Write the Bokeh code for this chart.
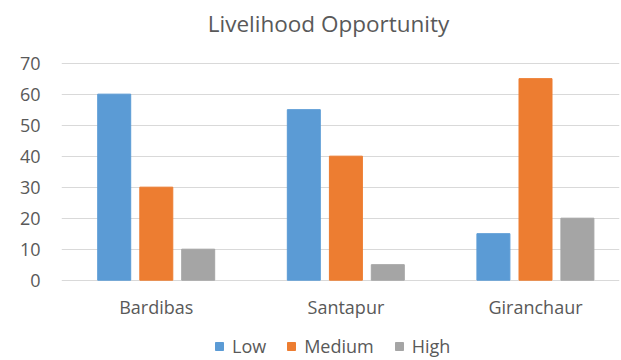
from bokeh.plotting import figure
from bokeh.models import ColumnDataSource, Range1d, FixedTicker, Legend, LegendItem, Label
from bokeh.transform import dodge
from bokeh.core.properties import value
from bokeh.embed import file_html
from bokeh.resources import INLINE

categories = ["Bardibas", "Santapur", "Giranchaur"]
low = [60, 55, 15]
medium = [30, 40, 65]
high = [10, 5, 20]
series_names = ["Low", "Medium", "High"]
y_ticks = [0, 10, 20, 30, 40, 50, 60, 70]
title_text = "Livelihood Opportunity"

colors = ["#5B9BD5", "#ED7D31", "#A5A5A5"]
offsets = [-0.222, 0.0, 0.221]
FONT = "Open Sans"
TXT = "#595959"

x = list(range(len(categories)))
source = ColumnDataSource(dict(x=x, cat=categories, Low=low, Medium=medium, High=high))

# The frame spans the whole canvas height; gridlines and ticks stop at 70,
# so title, category labels and legend can all live inside the frame.
p = figure(frame_width=558, frame_height=360, output_backend="svg", toolbar_location=None,
           x_range=Range1d(-0.5, 2.443), y_range=Range1d(-25.9, 90.2),
           x_axis_location=None,
           min_border_left=61, min_border_right=2, min_border_top=0,
           min_border_bottom=0)
p.outline_line_color = None
p.background_fill_color = "white"
p.border_fill_color = "white"

# screen units are measured from the frame's bottom-left corner
title = Label(x=267, y=337, x_units="screen", y_units="screen", text=title_text,
              text_font=FONT, text_font_size="22.5px", text_color=TXT,
              text_align="center", text_baseline="middle")
p.add_layout(title)

renderers = []
for name, off, col in zip(series_names, offsets, colors):
    r = p.vbar(x=dodge("x", off), top=name, width=0.174, source=source,
               fill_color=col, line_color=col)
    renderers.append(r)

# category labels under the zero line
p.text(x="x", y=-8.6, text="cat", source=source, text_font=value(FONT),
       text_font_size=value("18px"), text_color=TXT, text_align="center",
       text_baseline="middle")

p.xgrid.grid_line_color = None
p.ygrid.grid_line_color = "#d9d9d9"
p.ygrid.ticker = FixedTicker(ticks=y_ticks)

p.yaxis.ticker = FixedTicker(ticks=y_ticks)
p.yaxis.axis_line_color = None
p.yaxis.major_tick_line_color = None
p.yaxis.minor_tick_line_color = None
p.yaxis.major_label_standoff = 15
p.yaxis.major_label_text_font = FONT
p.yaxis.major_label_text_font_size = "18px"
p.yaxis.major_label_text_color = TXT

legend = Legend(items=[LegendItem(label=n, renderers=[r]) for n, r in zip(series_names, renderers)],
                orientation="horizontal", location=(153, 2))
legend.label_text_font = FONT
legend.label_text_font_size = "18px"
legend.label_text_color = TXT
legend.glyph_width = 10
legend.glyph_height = 10
legend.label_height = 20
legend.label_standoff = 8
legend.spacing = 20
legend.padding = 0
legend.margin = 0
legend.border_line_color = None
legend.background_fill_alpha = 0
p.add_layout(legend)

open("out.html", "w").write(file_html(p, INLINE))
